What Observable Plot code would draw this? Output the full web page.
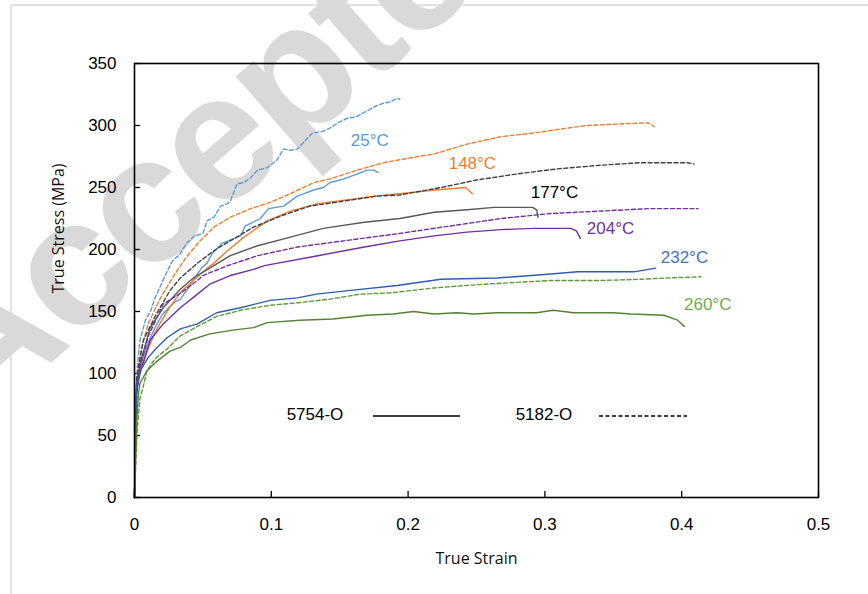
<!DOCTYPE html>
<html>
<head>
<meta charset="utf-8">
<script src="https://cdn.jsdelivr.net/npm/d3@7"></script>
<script src="https://cdn.jsdelivr.net/npm/@observablehq/plot@0.6"></script>
<style>
  body { margin: 0; background: #fff; }
  #wrap { position: relative; width: 868px; height: 594px; overflow: hidden; background: #fff; }
  #border { position: absolute; left: 10px; top: 4px; width: 900px; height: 700px;
            border-left: 2px solid #e2e2e2; border-top: 2px solid #e2e2e2; }
  #wm { position: absolute; left: 0; top: 0; }
  #chart { position: absolute; left: 0; top: 0; }
  #legend { position: absolute; left: 0; top: 0; pointer-events: none; }
</style>
</head>
<body>
<div id="wrap">
  <div id="border"></div>
  <svg id="wm" width="868" height="594">
    <text x="-24" y="428" transform="rotate(-41 -24 428)" font-family="'Liberation Sans', Arial, sans-serif"
          font-weight="bold" font-size="180" letter-spacing="-4" fill="#d9d9d9">Accepted</text>
  </svg>
  <div id="chart"></div>
  <svg id="legend" width="868" height="594" font-family="'Liberation Sans', Arial, sans-serif" font-size="17">
    <text x="315" y="416" text-anchor="middle" dominant-baseline="middle">5754-O</text>
    <line x1="373" x2="460" y1="416" y2="416" stroke="#000" stroke-width="1.3"/>
    <text x="544" y="416" text-anchor="middle" dominant-baseline="middle">5182-O</text>
    <line x1="599" x2="687" y1="416" y2="416" stroke="#000" stroke-width="1.3" stroke-dasharray="4,2.5"/>
  </svg>
</div>
<script>
// ---- tick values ----
const xTicks = [0, 0.1, 0.2, 0.3, 0.4, 0.5];
const yTicks = [0, 50, 100, 150, 200, 250, 300, 350];

// ---- curves: [true strain, true stress (MPa)] ----
const t25_5754 = [[0,0],[0.0015,90],[0.003,100],[0.006,112],[0.010,125],[0.015,137],[0.020,147],[0.025,153],[0.030,158],[0.0335,160],[0.040,170],[0.044,177],[0.049,185],[0.053,189],[0.057,197],[0.064,205],[0.0775,211],[0.081,219],[0.085,221],[0.092,225],[0.098,233],[0.109,235],[0.119,243],[0.124,245],[0.131,248],[0.138,250],[0.143,254],[0.153,257],[0.163,261],[0.170,264],[0.175,264],[0.178,262]];
const t25_5182 = [[0,0],[0.001,60],[0.002,105],[0.004,127],[0.008,143],[0.012,151],[0.015,161],[0.020,173],[0.025,185],[0.028,191],[0.033,196],[0.038,205],[0.044,211],[0.050,213],[0.053,223],[0.058,226],[0.063,235],[0.068,237],[0.070,239],[0.075,253],[0.080,254],[0.085,258],[0.090,264],[0.097,266],[0.104,272],[0.109,281],[0.114,280],[0.119,281],[0.125,288],[0.130,294],[0.137,295],[0.143,298],[0.150,303],[0.156,306],[0.162,307],[0.167,310],[0.172,313],[0.177,316],[0.182,318],[0.187,319],[0.192,322],[0.194,321]];
const t148_5754 = [[0,0],[0.0015,85],[0.003,97],[0.005,105],[0.010,120],[0.015,133],[0.020,143],[0.025,152],[0.030,160],[0.035,167],[0.040,172],[0.045,177],[0.050,182],[0.058,189],[0.068,199],[0.080,210],[0.097,223],[0.114,231],[0.134,237],[0.155,240],[0.175,243],[0.194,245],[0.219,248],[0.242,250],[0.247,245]];
const t148_5182 = [[0,0],[0.001,50],[0.002,100],[0.005,120],[0.010,140],[0.015,152],[0.020,163],[0.025,172],[0.030,181],[0.038,194],[0.048,207],[0.058,218],[0.070,226],[0.085,233],[0.099,238],[0.114,245],[0.131,254],[0.143,257],[0.163,264],[0.182,270],[0.202,274],[0.219,277],[0.243,285],[0.268,291],[0.292,294],[0.317,298],[0.331,300],[0.350,301],[0.370,302],[0.376,302],[0.380,299]];
const t177_5754 = [[0,0],[0.0015,90],[0.004,108],[0.0115,137],[0.021,153],[0.0335,168],[0.043,177],[0.055,185],[0.070,195],[0.090,203],[0.114,210],[0.138,217],[0.168,222],[0.194,225],[0.219,230],[0.243,232],[0.263,234],[0.291,234],[0.294,232],[0.295,226]];
const t177_5182 = [[0,0],[0.0015,95],[0.004,112],[0.0065,127],[0.016,148],[0.026,167],[0.0335,177],[0.046,189],[0.058,199],[0.070,207],[0.087,218],[0.107,227],[0.128,235],[0.153,239],[0.177,243],[0.194,244],[0.224,250],[0.250,256],[0.280,261],[0.309,265],[0.341,268],[0.370,270],[0.404,270],[0.409,269]];
const t204_5754 = [[0,0],[0.0015,85],[0.004,100],[0.0115,127],[0.021,140],[0.0335,153],[0.046,164],[0.055,172],[0.070,179],[0.087,184],[0.095,187],[0.134,195],[0.168,202],[0.194,207],[0.219,211],[0.243,214],[0.268,216],[0.292,217],[0.319,217],[0.323,215],[0.326,209]];
const t204_5182 = [[0,0],[0.0015,90],[0.004,105],[0.010,130],[0.021,156],[0.034,165],[0.046,175],[0.050,179],[0.068,187],[0.090,195],[0.119,202],[0.153,207],[0.194,213],[0.231,219],[0.268,225],[0.304,229],[0.341,231],[0.377,233],[0.412,233]];
const t232_5754 = [[0,0],[0.0015,90],[0.004,102],[0.010,113],[0.0165,121],[0.024,129],[0.0335,136],[0.046,140],[0.060,149],[0.0775,153],[0.099,159],[0.119,161],[0.133,164],[0.158,167],[0.192,171],[0.224,176],[0.265,177],[0.302,180],[0.324,182],[0.365,182],[0.381,185]];
const t260_5182 = [[0,0],[0.002,55],[0.004,80],[0.0065,90],[0.009,102],[0.015,112],[0.024,120],[0.033,130],[0.046,138],[0.060,146],[0.0775,151],[0.099,155],[0.119,157],[0.143,160],[0.165,164],[0.187,165],[0.219,169],[0.255,172],[0.304,175],[0.341,175],[0.370,176],[0.389,177],[0.414,178]];
const t260_5754 = [[0,0],[0.0015,60],[0.003,85],[0.004,92],[0.009,102],[0.0165,110],[0.026,118],[0.0335,121],[0.041,127],[0.055,132],[0.072,135],[0.087,137],[0.097,141],[0.121,143],[0.145,144],[0.170,147],[0.189,148],[0.204,150],[0.219,148],[0.236,149],[0.248,148],[0.265,149],[0.294,149],[0.306,151],[0.321,149],[0.350,149],[0.363,148],[0.387,147],[0.397,143],[0.402,138]];

// ---- temperature labels ----
const tempLabels = ["25°C", "148°C", "177°C", "204°C", "232°C", "260°C"];
const tempLabelX = [0.172, 0.247, 0.307, 0.348, 0.402, 0.419];
const tempLabelY = [288, 269, 246, 217, 193.5, 156];
const tempColors = ["#5B9BD5", "#ED7D31", "#000000", "#7030A0", "#4472C4", "#70AD47"];

const series = [
  {pts: t25_5754, color: "#5B9BD5", dash: null},
  {pts: t25_5182, color: "#5B9BD5", dash: "4,2.5"},
  {pts: t148_5754, color: "#ED7D31", dash: null},
  {pts: t148_5182, color: "#ED7D31", dash: "4,2.5"},
  {pts: t177_5754, color: "#595959", dash: null},
  {pts: t177_5182, color: "#404040", dash: "4,2.5"},
  {pts: t204_5754, color: "#7030A0", dash: null},
  {pts: t204_5182, color: "#7030A0", dash: "4,2.5"},
  {pts: t232_5754, color: "#2F5DAE", dash: null},
  {pts: t260_5182, color: "#5E9A3A", dash: "4,2.5"},
  {pts: t260_5754, color: "#548235", dash: null}
];

const labelData = tempLabels.map((t, i) => ({t, x: tempLabelX[i], y: tempLabelY[i], c: tempColors[i]}));

const chart = Plot.plot({
  width: 868,
  height: 594,
  marginLeft: 134,
  marginTop: 63,
  marginRight: 50,
  marginBottom: 97,
  style: {background: "transparent", fontFamily: "'Liberation Sans', Arial, sans-serif", fontSize: "17px", color: "#000"},
  x: {domain: [0, 0.5]},
  y: {domain: [0, 350]},
  marks: [
    Plot.axisX(xTicks, {tickSize: -6, tickPadding: 26, tickFormat: d => String(d), label: null, stroke: "#000", strokeWidth: 1.3, fontSize: 17}),
    Plot.axisY(yTicks, {tickSize: -6, tickPadding: 24, tickFormat: d => String(d), label: null, stroke: "#000", strokeWidth: 1.3, fontSize: 17}),
    ...series.map(s => Plot.line(s.pts, {x: d => d[0], y: d => d[1], stroke: s.color, strokeWidth: 1.4, strokeDasharray: s.dash})),
    Plot.frame({stroke: "#000", strokeWidth: 1.6}),
    Plot.text(labelData, {x: "x", y: "y", text: "t", fill: "c", fontSize: 17, textAnchor: "middle"}),
    Plot.text(["True Stress (MPa)"], {frameAnchor: "left", dx: -76, dy: 13, rotate: -90, fontFamily: "'Open Sans'", fontSize: 16, fill: "#111"}),
    Plot.text(["True Strain"], {frameAnchor: "bottom", dy: 66, fontFamily: "'Open Sans'", fontSize: 16, fill: "#111"})
  ]
});
document.getElementById("chart").appendChild(chart);
</script>
</body>
</html>
